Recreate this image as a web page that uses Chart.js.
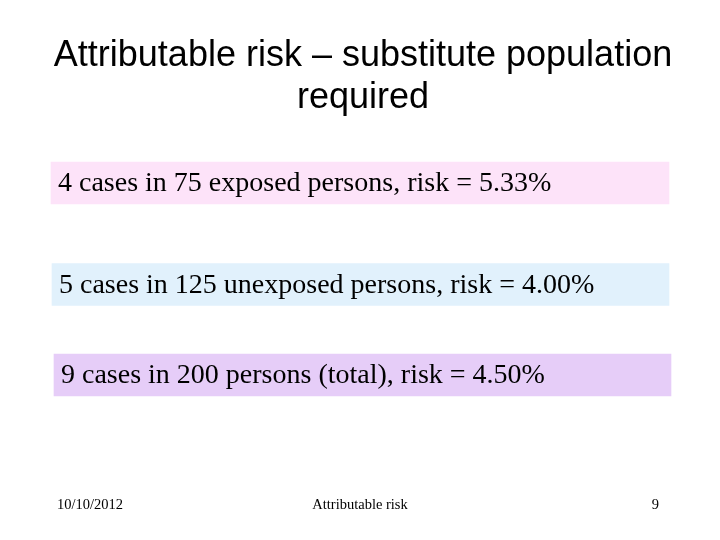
<!DOCTYPE html>
<html>
<head>
<meta charset="utf-8">
<script src="https://cdn.jsdelivr.net/npm/chart.js@4"></script>
<style>
  html, body { margin: 0; padding: 0; background: #fff; }
  canvas { display: block; }
</style>
</head>
<body>
<canvas id="slide" width="720" height="540"></canvas>
<script>
// Slide content
const titleLines = ['Attributable risk \u2013 substitute population', 'required'];
const boxLabels = [
  '4 cases in 75 exposed persons, risk = 5.33%',
  '5 cases in 125 unexposed persons, risk = 4.00%',
  '9 cases in 200 persons (total), risk = 4.50%'
];
const boxStart = [51, 52, 54];
const boxEnd = [669, 669, 671];
const boxRow = [183, 284.5, 375];
const boxColors = ['#fde3f9', '#e1f1fc', '#e6cdf8'];
const footerDate = '10/10/2012';
const footerTitle = 'Attributable risk';
const footerPage = '9';

const textPlugin = {
  id: 'slideText',
  afterDraw: (chart) => {
    const c = chart.ctx;
    const x = chart.scales.x;
    const y = chart.scales.y;
    c.save();
    c.fillStyle = '#000';
    c.textBaseline = 'middle';

    c.font = '36px "Liberation Sans", Arial, sans-serif';
    c.textAlign = 'center';
    c.fillText(titleLines[0], x.getPixelForValue(363), y.getPixelForValue(56));
    c.fillText(titleLines[1], x.getPixelForValue(363), y.getPixelForValue(98));

    c.font = '28px "Liberation Serif", "Times New Roman", serif';
    c.textAlign = 'left';
    boxLabels.forEach((t, i) => {
      c.fillText(t, x.getPixelForValue(boxStart[i] + 7), y.getPixelForValue(boxRow[i] + 1));
    });

    c.font = '14.5px "Liberation Serif", "Times New Roman", serif';
    c.fillText(footerDate, x.getPixelForValue(57), y.getPixelForValue(505));
    c.textAlign = 'center';
    c.fillText(footerTitle, x.getPixelForValue(360), y.getPixelForValue(505));
    c.textAlign = 'right';
    c.fillText(footerPage, x.getPixelForValue(659), y.getPixelForValue(505));
    c.restore();
  }
};

new Chart(document.getElementById('slide').getContext('2d'), {
  type: 'bar',
  data: {
    datasets: [{
      data: boxLabels.map((_, i) => ({ x: [boxStart[i], boxEnd[i]], y: boxRow[i] })),
      backgroundColor: boxColors,
      borderWidth: 0,
      barThickness: 42
    }]
  },
  plugins: [textPlugin],
  options: {
    indexAxis: 'y',
    responsive: false,
    animation: false,
    layout: { padding: 0 },
    plugins: { legend: { display: false }, tooltip: { enabled: false } },
    scales: {
      x: { type: 'linear', min: 0, max: 720, display: false, offset: false },
      y: { type: 'linear', min: 0, max: 540, reverse: true, display: false, offset: false }
    }
  }
});
</script>
</body>
</html>
